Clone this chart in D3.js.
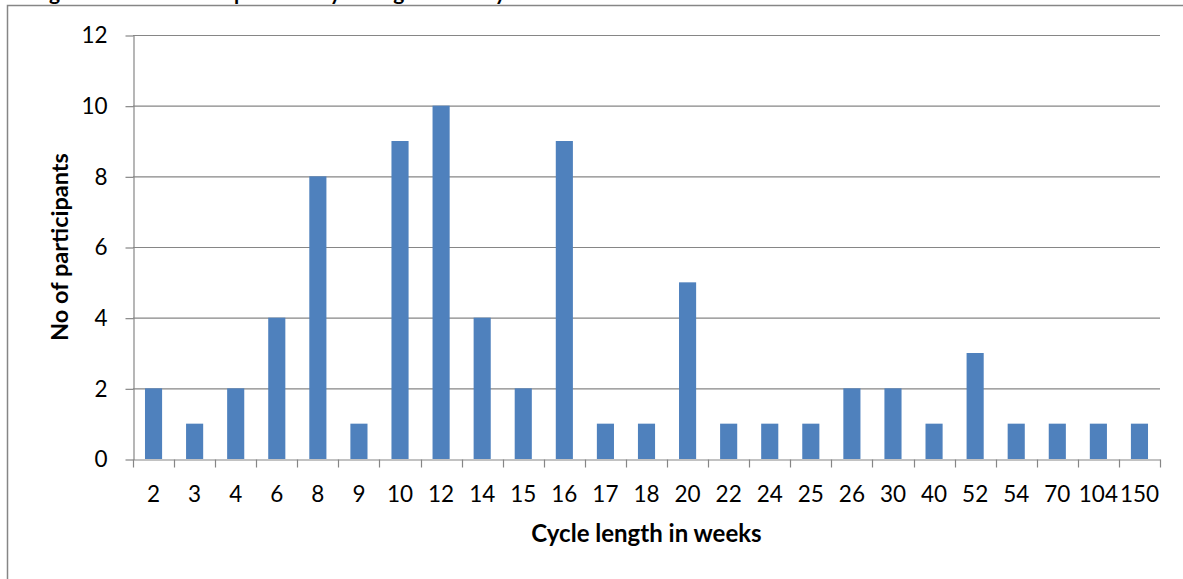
<!DOCTYPE html>
<html>
<head>
<meta charset="utf-8">
<script src="https://cdn.jsdelivr.net/npm/d3@7/dist/d3.min.js"></script>
<style>
  html, body { margin: 0; padding: 0; background: #fff; }
  svg { display: block; }
  text { font-family: Lato, "Open Sans", sans-serif; fill: #000; }
</style>
</head>
<body>
<svg id="chart" width="1183" height="579"></svg>
<script>
// Data
const categories = ["2","3","4","6","8","9","10","12","14","15","16","17","18","20","22","24","25","26","30","40","52","54","70","104","150"];
const participants = [2,1,2,4,8,1,9,10,4,2,9,1,1,5,1,1,1,2,2,1,3,1,1,1,1];
const yTicks = [0,2,4,6,8,10,12];
const titleText = "Figure 1: Participants by length of cycle";
const xTitle = "Cycle length in weeks";
const yTitle = "No of participants";

const svg = d3.select("#chart");
const plot = { left: 133, right: 1160, top: 35, bottom: 459 };
const gridColor = "#868686";
const tickFont = 22.5;
const titleFont = 23.5;

// outer chart frame (extends beyond the visible window)
svg.append("rect")
  .attr("x", 7.5).attr("y", 5.5)
  .attr("width", 1300).attr("height", 700)
  .attr("fill", "none").attr("stroke", gridColor).attr("stroke-width", 1.5);

// caption above the frame, cropped by the window top (only descenders visible)
svg.append("text")
  .attr("x", 24).attr("y", 0)
  .attr("font-weight", "bold").attr("font-size", 21)
  .attr("textLength", 520).attr("lengthAdjust", "spacing")
  .text(titleText);

const x = d3.scaleBand().domain(categories).range([plot.left, plot.right]).paddingInner(0).paddingOuter(0);
const y = d3.scaleLinear().domain([0, 12]).range([plot.bottom, plot.top]);

// gridlines
svg.append("g").selectAll("line").data(yTicks.filter(d => d > 0)).join("line")
  .attr("x1", plot.left).attr("x2", plot.right)
  .attr("y1", d => y(d) + 0.5).attr("y2", d => y(d) + 0.5)
  .attr("stroke", gridColor).attr("stroke-width", 1.2);

// bars
const barW = x.bandwidth() / 2.4;
svg.append("g").selectAll("rect").data(categories).join("rect")
  .attr("x", (d) => x(d) + (x.bandwidth() - barW) / 2)
  .attr("width", barW)
  .attr("y", (d, i) => y(participants[i]))
  .attr("height", (d, i) => y(0) - y(participants[i]))
  .attr("fill", "#4F81BD");

// y axis
const yAxis = d3.axisLeft(y).tickValues(yTicks).tickSize(8).tickPadding(18).tickSizeOuter(0);
const gy = svg.append("g").attr("transform", `translate(${plot.left + 0.5},0.5)`).call(yAxis);
gy.select(".domain").attr("stroke", gridColor).attr("stroke-width", 1.2);
gy.selectAll(".tick line").attr("stroke", gridColor).attr("stroke-width", 1.2);
gy.selectAll(".tick text").attr("font-size", tickFont).attr("font-family", "Lato, sans-serif").attr("fill", "#000");

// x axis
const xAxis = d3.axisBottom(x).tickSize(0).tickPadding(27).tickSizeOuter(0);
const gx = svg.append("g").attr("transform", `translate(0,${plot.bottom + 0.5})`).call(xAxis);
gx.select(".domain").attr("stroke", gridColor).attr("stroke-width", 1.2);
gx.selectAll(".tick text").attr("font-size", tickFont).attr("font-family", "Lato, sans-serif").attr("fill", "#000");
// boundary tick marks between categories
const bounds = categories.map(d => x(d)).concat([plot.right]);
gx.append("g").selectAll("line").data(bounds).join("line")
  .attr("x1", d => Math.round(d) + 0.5).attr("x2", d => Math.round(d) + 0.5)
  .attr("y1", 0).attr("y2", 8)
  .attr("stroke", gridColor).attr("stroke-width", 1.2);

// axis titles
svg.append("text")
  .attr("x", (plot.left + plot.right) / 2).attr("y", 542)
  .attr("text-anchor", "middle").attr("font-weight", "bold").attr("font-size", 24)
  .text(xTitle);

svg.append("text")
  .attr("transform", `translate(68,${(plot.top + plot.bottom) / 2}) rotate(-90)`)
  .attr("text-anchor", "middle").attr("font-weight", "bold").attr("font-size", titleFont)
  .text(yTitle);
</script>
</body>
</html>
